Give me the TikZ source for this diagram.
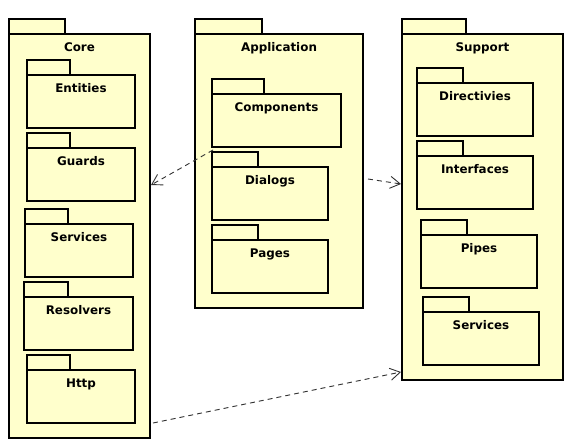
\documentclass[tikz,border=0pt]{standalone}
\usepackage{fontspec}
\setmainfont{DejaVu Sans}
\usetikzlibrary{arrows.meta,calc}
\definecolor{pkgfill}{HTML}{FFFFCC}
\definecolor{depline}{HTML}{333333}

% #1 name, #2 left, #3 body top, #4 width, #5 height, #6 tab width, #7 title
\newcommand\umlpackage[7]{%
  \node[pkgbody, minimum width=#4pt, minimum height=#5pt] (#1) at (#2,#3) {};
  \draw[pkgtab] (#1.north west) rectangle ++(#6,-15);
  \node[pkglabel] (#1-title) at ($(#1.north)+(0,17.5)$) {#7};
}

\begin{document}
\begin{tikzpicture}[x=1pt,y=-1pt,
  pkgbody/.style={draw=black, fill=pkgfill, line width=1.8pt, inner sep=0pt,
    outer sep=0pt, anchor=north west},
  pkgtab/.style={draw=black, fill=pkgfill, line width=1.8pt},
  pkglabel/.style={font=\bfseries\fontsize{11.9}{13}\selectfont, anchor=base,
    inner sep=0pt},
  dep/.style={draw=depline, line width=0.9pt, dash pattern=on 5pt off 4pt,
    -{Straight Barb[length=10pt, width=12pt, line width=0.9pt]}}]
\useasboundingbox (0,0) rectangle (580,445);

% Core
\umlpackage{core}{9}{34}{141}{404}{56}{Core}
\umlpackage{entities}{27}{75}{108}{53}{43}{Entities}
\umlpackage{guards}{27}{148}{108}{53}{43}{Guards}
\umlpackage{coreservices}{25}{224}{108}{53}{43}{Services}
\umlpackage{resolvers}{24}{297}{109}{53}{44}{Resolvers}
\umlpackage{http}{27}{370}{108}{53}{43}{Http}

% Application
\umlpackage{app}{195}{34}{168}{274}{67}{Application}
\umlpackage{components}{212}{94}{129}{53}{52}{Components}
\umlpackage{dialogs}{212}{167}{116}{53}{46}{Dialogs}
\umlpackage{pages}{212}{240}{116}{53}{46}{Pages}

% Support
\umlpackage{support}{402}{34}{161}{346}{64}{Support}
\umlpackage{directivies}{417}{83}{116}{53}{46}{Directivies}
\umlpackage{interfaces}{417}{156}{116}{53}{46}{Interfaces}
\umlpackage{pipes}{421}{235}{116}{53}{46}{Pipes}
\umlpackage{supportservices}{423}{312}{116}{53}{46}{Services}

% Dependencies
\draw[dep] ($(components.south west)+(1,3)$) -- ($(core.north east)+(1,151)$);
\draw[dep] ($(app.north east)+(5,145)$) -- ($(support.north west)+(-1,150)$);
\draw[dep] ($(core.south east)+(3,-15)$) -- ($(support.south west)+(-1,-8)$);
\end{tikzpicture}
\end{document}
